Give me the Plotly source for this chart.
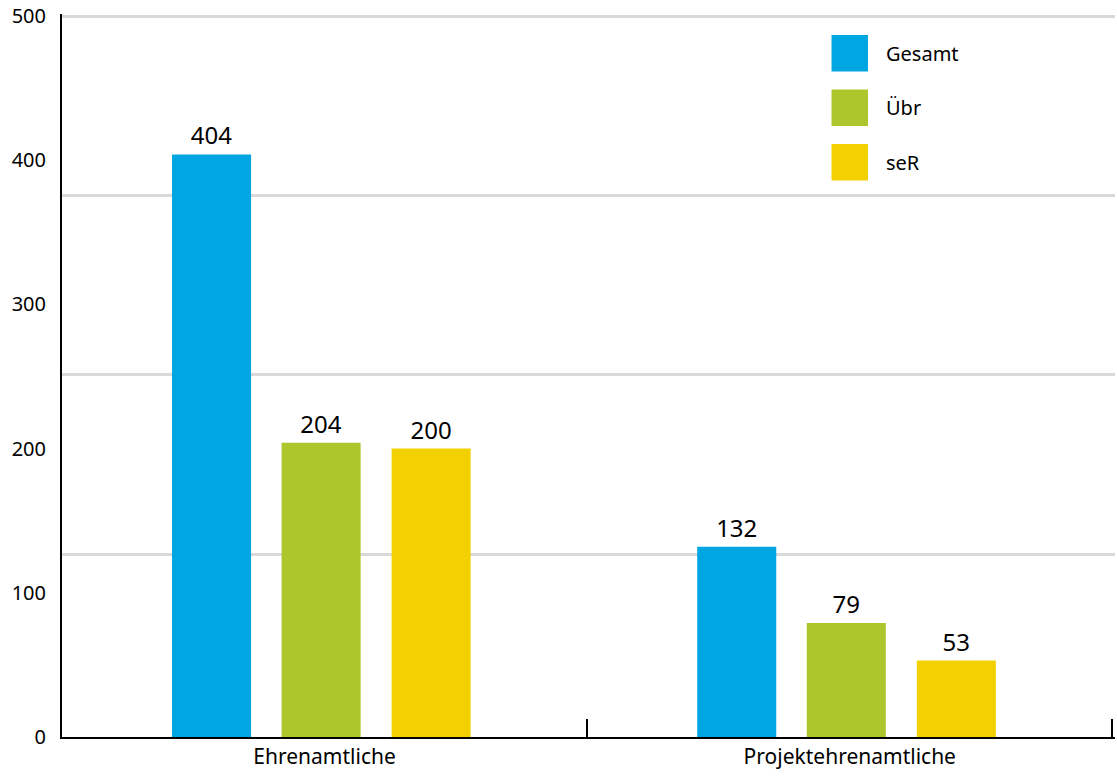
import plotly.graph_objects as go

# Data
categories = ["Ehrenamtliche", "Projektehrenamtliche"]
series_names = ["Gesamt", "Übr", "seR"]
gesamt = [404, 132]
uebr = [204, 79]
ser = [200, 53]
series_values = [gesamt, uebr, ser]
colors = ["#00A6E2", "#ADC62B", "#F3D100"]
y_ticks = [0, 100, 200, 300, 400, 500]
grid_lines = [126.8, 251.4, 375.5, 499.7]

FONT = "Noto Sans"
Y_RANGE = [0, 501.4]

# Bar geometry in category units (width and left-edge offset per series)
bar_width = 0.1505
bar_offsets = [-0.2905, -0.0819, 0.1276]

fig = go.Figure()
for name, vals, col, off in zip(series_names, series_values, colors, bar_offsets):
    fig.add_trace(go.Bar(
        x=categories, y=vals, name=name,
        width=bar_width, offset=off,
        marker=dict(color=col, line=dict(width=0)),
        texttemplate="%{y}", textposition="outside",
        textfont=dict(family=FONT, size=24, color="#000000"),
        cliponaxis=False, constraintext="none",
        showlegend=False, yaxis="y",
    ))

# Invisible helper trace carrying the labelled value axis
fig.add_trace(go.Scatter(
    x=categories, y=gesamt, yaxis="y2", mode="markers",
    marker=dict(opacity=0), showlegend=False, hoverinfo="skip",
))

# Legend drawn as large swatches with labels
sw_x0, sw_x1 = 0.7308, 0.7654
top = 0.9710
sw_h = 0.0505
step = 0.0754
shapes = []
annotations = []
for i, (name, col) in enumerate(zip(series_names, colors)):
    y1 = top - i * step
    y0 = y1 - sw_h
    shapes.append(dict(type="rect", xref="paper", yref="paper",
                       x0=sw_x0, x1=sw_x1, y0=y0, y1=y1,
                       fillcolor=col, line=dict(width=0)))
    annotations.append(dict(xref="paper", yref="paper", x=0.7802,
                            y=(y0 + y1) / 2, text=name, showarrow=False,
                            xanchor="left", yanchor="middle",
                            font=dict(family=FONT, size=20, color="#000000")))

fig.update_layout(
    width=1117, height=780,
    margin=dict(l=62, r=2, t=14, b=43),
    paper_bgcolor="#ffffff", plot_bgcolor="#ffffff",
    barmode="overlay",
    font=dict(family=FONT, color="#000000"),
    xaxis=dict(
        type="category", range=[-0.5, 1.505],
        showline=True, linecolor="#000000", linewidth=2,
        ticks="inside", tickson="boundaries", ticklen=18, tickwidth=2,
        tickcolor="#000000", showgrid=False,
        tickfont=dict(family=FONT, size=21, color="#000000"),
    ),
    yaxis=dict(
        range=Y_RANGE, tickmode="array", tickvals=grid_lines, showgrid=True,
        gridcolor="#d9d9d9", gridwidth=3, showticklabels=False,
        zeroline=False, showline=False, ticks="",
    ),
    yaxis2=dict(
        overlaying="y", side="left", range=Y_RANGE,
        tickvals=y_ticks, ticktext=[str(v) for v in y_ticks],
        showgrid=False, zeroline=False,
        showline=True, linecolor="#000000", linewidth=2,
        ticks="", ticklabelstandoff=10,
        tickfont=dict(family=FONT, size=20, color="#000000"),
    ),
    shapes=shapes,
    annotations=annotations,
)

fig.write_html("out.html")
